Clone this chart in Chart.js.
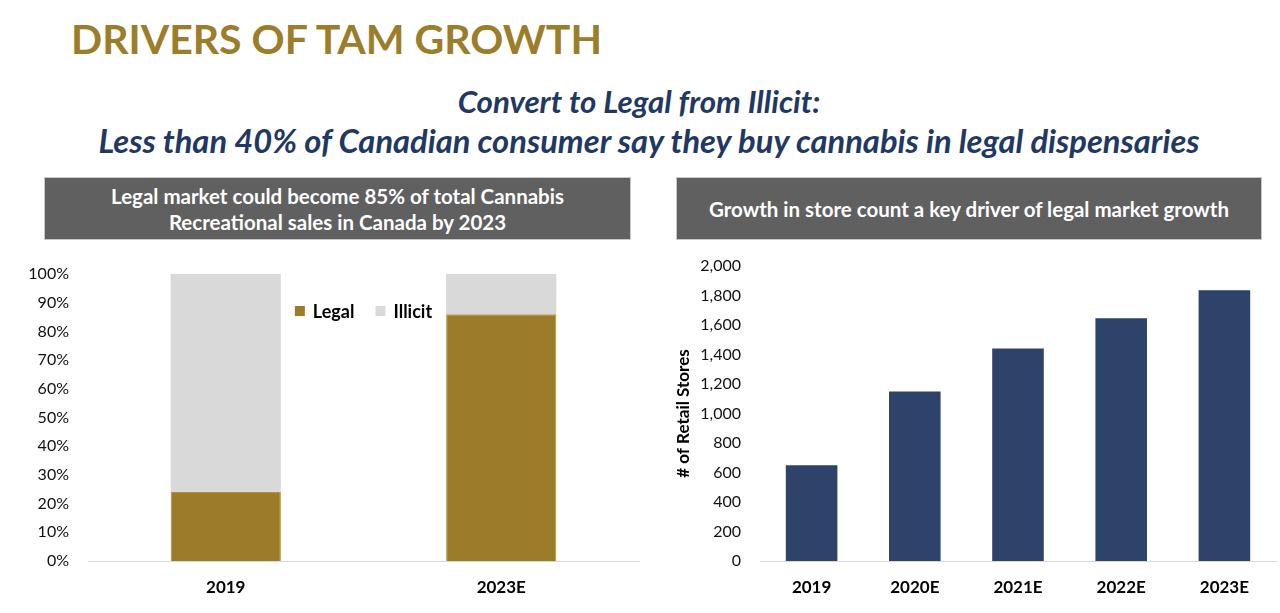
<!DOCTYPE html>
<html>
<head>
<meta charset="utf-8">
<script src="https://cdn.jsdelivr.net/npm/chart.js@4.4.0/dist/chart.umd.min.js"></script>
<style>
  body { margin: 0; width: 1280px; height: 613px; background: #fff; position: relative; overflow: hidden; font-family: Lato, sans-serif; }
  #title { position: absolute; left: 71px; top: 18px; font-size: 41px; line-height: 1; font-weight: 700; color: #9b7d2a; white-space: nowrap; }
  .sub { position: absolute; width: 1280px; text-align: center; line-height: 39px; font-weight: 700; font-style: italic; color: #1f3864; white-space: nowrap; }
  .hdr { position: absolute; top: 177px; height: 63px; background: #606060; border: 1px solid #c8c8c8; box-sizing: border-box; color: #fff; font-weight: 700; font-size: 20.5px; line-height: 26px; display: flex; align-items: center; justify-content: center; text-align: center; }
  .box { position: absolute; top: 250px; width: 640px; height: 363px; }
</style>
</head>
<body>
<div id="title">DRIVERS OF TAM GROWTH</div>
<div class="sub" style="left:-1px; top:82px; font-size:31.3px;">Convert to Legal from Illicit:</div>
<div class="sub" style="left:9px; top:121px; font-size:32.7px;">Less than 40% of Canadian consumer say they buy cannabis in legal dispensaries</div>
<div class="hdr" style="left:44px; width:587px;">Legal market could become 85% of total Cannabis<br>Recreational sales in Canada by 2023</div>
<div class="hdr" style="left:676px; width:586px;">Growth in store count a key driver of legal market growth</div>
<div class="box" style="left:0;"><canvas id="leftChart" width="640" height="363"></canvas></div>
<div class="box" style="left:640px;"><canvas id="rightChart" width="640" height="363"></canvas></div>

<script>
// left chart: share of recreational sales
const shareYears = ['2019', '2023E'];
const legalShare = [24, 86];
const illicitShare = [76, 14];
const shareTicks = [0, 10, 20, 30, 40, 50, 60, 70, 80, 90, 100];

// right chart: number of retail stores
const storeYears = ['2019', '2020E', '2021E', '2022E', '2023E'];
const storeCounts = [650, 1150, 1440, 1645, 1835];
const storeTicks = [0, 200, 400, 600, 800, 1000, 1200, 1400, 1600, 1800, 2000];

const gold = '#9c7b2b';
const lightGray = '#d9d9d9';
const navy = '#2e4369';

Chart.defaults.font.family = 'Lato, sans-serif';
Chart.defaults.color = '#111';

// legend drawn inside the plot, one row, like the slide
const insideLegend = {
    id: 'insideLegend',
    afterDatasetsDraw(chart) {
        const { ctx, chartArea } = chart;
        const items = chart.data.datasets.map(d => ({ text: d.label, color: d.backgroundColor }));
        const box = 10, gap = 8, spacing = 21;
        ctx.save();
        ctx.font = 'bold 18px Lato, sans-serif';
        const widths = items.map(it => box + gap + ctx.measureText(it.text).width);
        const total = widths.reduce((a, b) => a + b, 0) + spacing * (items.length - 1);
        let x = (chartArea.left + chartArea.right) / 2 - total / 2;
        const y = chartArea.top + 37;
        ctx.textBaseline = 'middle';
        ctx.textAlign = 'left';
        items.forEach((it, i) => {
            ctx.fillStyle = it.color;
            ctx.fillRect(x, y - box / 2, box, box);
            ctx.fillStyle = '#000';
            ctx.fillText(it.text, x + box + gap, y + 1);
            x += widths[i] + spacing;
        });
        ctx.restore();
    }
};

// y axis: fixed width, no extra label overflow so layout padding sets the top
const fixY = width => s => {
    s.width = width;
    s.paddingTop = 0;
    s.paddingBottom = 0;
};

new Chart(document.getElementById('leftChart'), {
    type: 'bar',
    data: {
        labels: shareYears,
        datasets: [
            { label: 'Legal', data: legalShare, backgroundColor: gold, borderColor: '#b4922f', borderWidth: 1, barPercentage: 0.4, categoryPercentage: 1 },
            { label: 'Illicit', data: illicitShare, backgroundColor: lightGray, borderWidth: 0, barPercentage: 0.4, categoryPercentage: 1 }
        ]
    },
    options: {
        responsive: false,
        animation: false,
        devicePixelRatio: 1,
        layout: { padding: { top: 24, right: 1, bottom: 0, left: 0 } },
        plugins: {
            tooltip: { enabled: false },
            legend: { display: false }
        },
        scales: {
            x: {
                stacked: true,
                grid: { display: false, drawTicks: false },
                border: { color: lightGray, width: 1 },
                ticks: { color: '#000', padding: 16, font: { size: 17, weight: 'bold' } },
                afterFit: s => { s.height = 52; }
            },
            y: {
                stacked: true,
                min: 0,
                max: 100,
                grid: { display: false, drawTicks: false },
                border: { display: false },
                afterBuildTicks: s => { s.ticks = shareTicks.map(v => ({ value: v })); },
                ticks: { color: '#111', padding: 19, font: { size: 16 }, callback: v => v + '%' },
                afterFit: fixY(88)
            }
        }
    },
    plugins: [insideLegend]
});

new Chart(document.getElementById('rightChart'), {
    type: 'bar',
    data: {
        labels: storeYears,
        datasets: [
            { label: '# of Retail Stores', data: storeCounts, backgroundColor: navy, borderWidth: 0, barPercentage: 0.5, categoryPercentage: 1 }
        ]
    },
    options: {
        responsive: false,
        animation: false,
        devicePixelRatio: 1,
        layout: { padding: { top: 16, right: 4, bottom: 0, left: 0 } },
        plugins: {
            tooltip: { enabled: false },
            legend: { display: false }
        },
        scales: {
            x: {
                grid: { display: false, drawTicks: false },
                border: { color: lightGray, width: 1 },
                ticks: { color: '#000', padding: 16, font: { size: 17, weight: 'bold' } },
                afterFit: s => { s.height = 52; }
            },
            y: {
                min: 0,
                max: 2000,
                grid: { display: false, drawTicks: false },
                border: { display: false },
                afterBuildTicks: s => { s.ticks = storeTicks.map(v => ({ value: v })); },
                ticks: { color: '#111', padding: 19, font: { size: 16 }, callback: v => v.toLocaleString('en-US') },
                title: { display: true, text: '# of Retail Stores', color: '#000', font: { size: 17, weight: 'bold' }, padding: { top: 33, bottom: 0 } },
                afterFit: fixY(120)
            }
        }
    }
});
</script>
</body>
</html>
